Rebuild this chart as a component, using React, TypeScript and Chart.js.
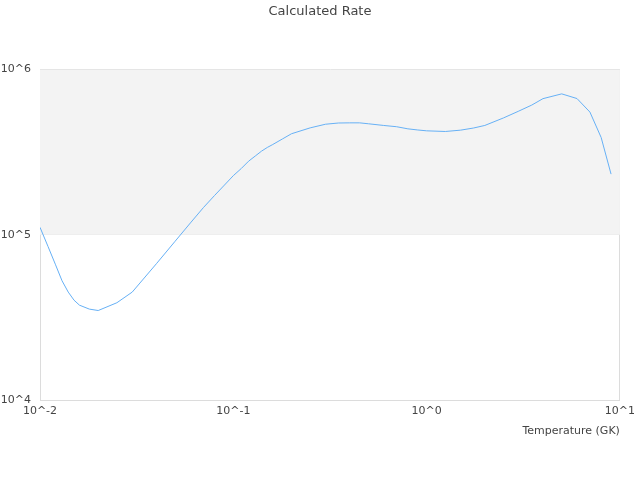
import { useEffect, useRef } from 'react'
import { Chart, registerables } from 'chart.js'

Chart.register(...registerables)

// temperature grid (GK) and calculated rate
const temperatures = [
  0.01, 0.011, 0.012, 0.013, 0.014, 0.015, 0.016, 0.018, 0.02, 0.025, 0.03, 0.04, 0.05, 0.06,
  0.07, 0.08, 0.09, 0.1, 0.11, 0.12, 0.13, 0.14, 0.15, 0.16, 0.18, 0.2, 0.25, 0.3, 0.35, 0.4,
  0.45, 0.5, 0.6, 0.7, 0.8, 0.9, 1.0, 1.25, 1.5, 1.75, 2.0, 2.5, 3.0, 3.5, 4.0, 5.0, 6.0, 7.0,
  8.0, 9.0,
]
const rates = [
  1.11e5, 8.5e4, 6.64e4, 5.27e4, 4.5e4, 4.02e4, 3.75e4, 3.55e4, 3.48e4, 3.88e4, 4.5e4, 6.68e4,
  9.14e4, 1.18e5, 1.46e5, 1.73e5, 2.0e5, 2.28e5, 2.52e5, 2.79e5, 3.0e5, 3.21e5, 3.38e5, 3.52e5,
  3.81e5, 4.09e5, 4.44e5, 4.67e5, 4.75e5, 4.76e5, 4.76e5, 4.7e5, 4.59e5, 4.51e5, 4.38e5, 4.31e5,
  4.26e5, 4.22e5, 4.3e5, 4.43e5, 4.59e5, 5.1e5, 5.61e5, 6.1e5, 6.67e5, 7.13e5, 6.68e5, 5.53e5,
  3.88e5, 2.33e5,
]
const xTicks = [0.01, 0.1, 1, 10]
const yTicks = [1e4, 1e5, 1e6]
const bands = [[1e5, 1e6]]

const font = 'DejaVu Sans'
const textColor = '#444'
const gridColor = '#dcdcdc'

const fmt = (v: number) => `10^${Math.round(Math.log10(v))}`

const bandPlugin = {
  id: 'bands',
  beforeDatasetsDraw(chart: any) {
    const { ctx, chartArea, scales } = chart
    ctx.save()
    ctx.fillStyle = '#f3f3f3'
    for (const [lo, hi] of bands) {
      const y1 = scales.y.getPixelForValue(hi)
      const y2 = scales.y.getPixelForValue(lo)
      ctx.fillRect(chartArea.left, y1, chartArea.right - chartArea.left, y2 - y1)
    }
    ctx.restore()
  },
}

export default function App() {
  const ref = useRef<HTMLCanvasElement>(null)

  useEffect(() => {
    const chart = new Chart(ref.current!, {
      type: 'line',
      data: {
        datasets: [
          {
            label: 'Rate',
            data: temperatures.map((t, i) => ({ x: t, y: rates[i] })),
            borderColor: '#66b0f5',
            borderWidth: 1,
            pointRadius: 0,
            tension: 0,
            fill: false,
          },
        ],
      },
      plugins: [bandPlugin],
      options: {
        animation: false,
        responsive: false,
        layout: { padding: { top: 4, right: 0, left: 0, bottom: 0 } },
        plugins: {
          legend: { display: false },
          tooltip: { enabled: false },
          title: {
            display: true,
            text: 'Calculated Rate',
            color: textColor,
            font: { family: font, size: 13, weight: 'normal' },
            padding: { top: 0, bottom: 50 },
          },
        },
        scales: {
          x: {
            type: 'logarithmic',
            min: 0.01,
            max: 10,
            afterBuildTicks: (s: any) => {
              s.ticks = xTicks.map((v) => ({ value: v }))
            },
            afterFit: (s: any) => {
              s.height = 80
            },
            ticks: {
              callback: (v: any) => fmt(Number(v)),
              color: textColor,
              font: { family: font, size: 11 },
              padding: 5,
              maxRotation: 0,
              autoSkip: false,
            },
            grid: {
              drawTicks: false,
              color: (c: any) =>
                c.tick && (c.tick.value === 10 || c.tick.value === 0.01) ? gridColor : 'rgba(0,0,0,0)',
            },
            border: { display: true, color: gridColor },
            title: {
              display: true,
              text: 'Temperature (GK)',
              align: 'end',
              color: textColor,
              font: { family: font, size: 11 },
              padding: { top: 0, bottom: 42 },
            },
          },
          y: {
            type: 'logarithmic',
            min: 1e4,
            max: 1e6,
            afterBuildTicks: (s: any) => {
              s.ticks = yTicks.map((v) => ({ value: v }))
            },
            afterFit: (s: any) => {
              s.width = 40
            },
            ticks: {
              callback: (v: any) => fmt(Number(v)),
              color: textColor,
              font: { family: font, size: 11 },
              padding: 9,
              autoSkip: false,
            },
            grid: { drawTicks: false, color: gridColor },
            border: { display: true, color: gridColor },
          },
          // empty right-hand axis, only to reserve the right margin
          yRight: {
            position: 'right',
            display: true,
            afterFit: (s: any) => {
              s.width = 20
            },
            ticks: { display: false },
            grid: { display: false, drawTicks: false },
            border: { display: false },
          },
        },
      },
    } as any)
    return () => chart.destroy()
  }, [])

  return (
    <div style={{ position: 'absolute', left: 0, top: 0, width: 640, height: 480, background: '#fff' }}>
      <canvas ref={ref} width={640} height={480}></canvas>
    </div>
  )
}
